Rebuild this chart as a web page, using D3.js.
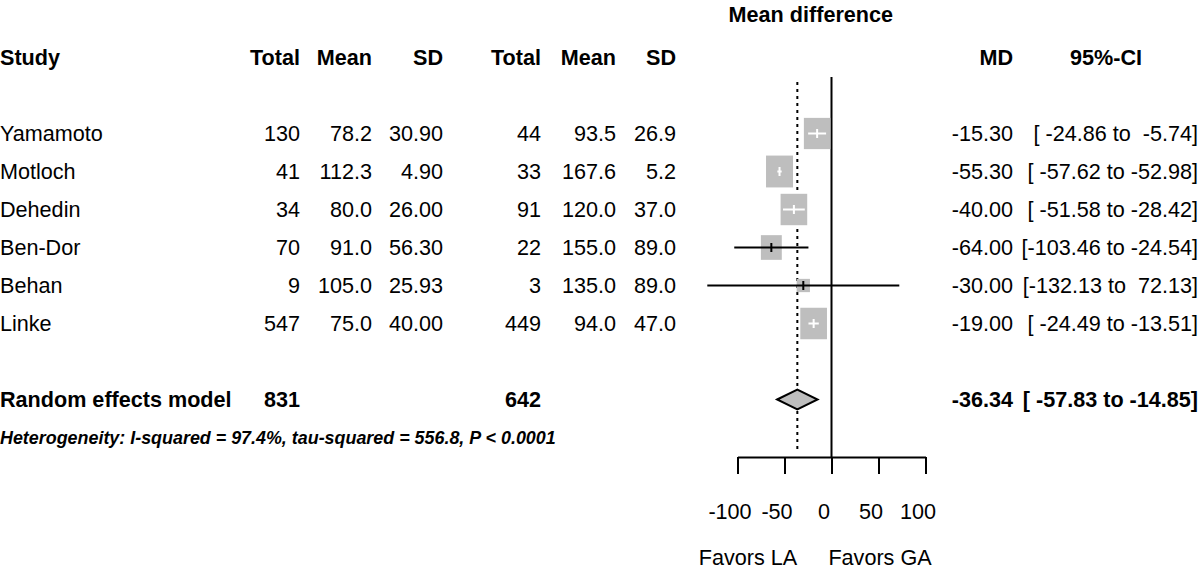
<!DOCTYPE html>
<html>
<head>
<meta charset="utf-8">
<script src="https://cdn.jsdelivr.net/npm/d3@7"></script>
<style>
  html, body { margin: 0; padding: 0; background: #fff; }
  svg text { font-family: "Liberation Sans", Arial, Helvetica, sans-serif; white-space: pre; fill: #000; }
</style>
</head>
<body>
<svg id="chart" width="1200" height="571"></svg>
<script>
// ---------------- data ----------------
const studies   = ["Yamamoto", "Motloch", "Dehedin", "Ben-Dor", "Behan", "Linke"];
const totalLA   = [130, 41, 34, 70, 9, 547];
const meanLA    = [78.2, 112.3, 80.0, 91.0, 105.0, 75.0];
const sdLA      = [30.90, 4.90, 26.00, 56.30, 25.93, 40.00];
const totalGA   = [44, 33, 91, 22, 3, 449];
const meanGA    = [93.5, 167.6, 120.0, 155.0, 135.0, 94.0];
const sdGA      = [26.9, 5.2, 37.0, 89.0, 89.0, 47.0];
const md        = [-15.30, -55.30, -40.00, -64.00, -30.00, -19.00];
const ciLower   = [-24.86, -57.62, -51.58, -103.46, -132.13, -24.49];
const ciUpper   = [-5.74, -52.98, -28.42, -24.54, 72.13, -13.51];
const weights   = [20.7, 21.5, 20.9, 12.9, 5.2, 21.0];
const pooledMD    = -36.34;
const pooledLower = -57.83;
const pooledUpper = -14.85;
const pooledTotalLA = 831;
const pooledTotalGA = 642;
const modelLabel = "Random effects model";
const hetText = "Heterogeneity: I-squared = 97.4%, tau-squared = 556.8, P < 0.0001";
const tickValues = [-100, -50, 0, 50, 100];
const headers = ["Study", "Total", "Mean", "SD", "Total", "Mean", "SD", "MD", "95%-CI"];
const plotTitle = "Mean difference";
const favorsLeft = "Favors LA";
const favorsRight = "Favors GA";

// ---------------- layout ----------------
const svg = d3.select("#chart");
const FS = 21.6;
const x = d3.scaleLinear().domain([-100, 100]).range([737.5, 925.5]);
const row = d3.scaleLinear().domain([0, 1]).range([133.5, 171.5]); // row index -> y center
const boxSize = d3.scaleSqrt().domain([0, 21.5]).range([0, 27]);
const colRight = [300, 372, 443, 541, 616, 676];
const mdRight = 1013, ciRight = 1198;
const axisY = 457;

const loc = d3.formatLocale({ decimal: ".", thousands: ",", grouping: [3], currency: ["", ""], minus: "-" });
const fmt0 = loc.format("d"), fmt1 = loc.format(".1f"), fmt2 = loc.format(".2f");
const pad = (s, n) => " ".repeat(Math.max(0, n - s.length)) + s;
const ciStr = (lo, hi) => "[" + pad(fmt2(lo), 7) + " to " + pad(fmt2(hi), 6) + "]";

function txt(xp, yc, s, opts = {}) {
  return svg.append("text")
    .attr("x", xp).attr("y", yc).attr("dy", "0.36em")
    .attr("text-anchor", opts.anchor || "start")
    .style("font-size", (opts.size || FS) + "px")
    .style("font-weight", opts.bold ? "bold" : "normal")
    .style("font-style", opts.italic ? "italic" : "normal")
    .text(s);
}

// title
txt(x(-22), 14, plotTitle, { anchor: "middle", bold: true });

// headers
const hy = row(-2);
txt(0, hy, headers[0], { bold: true });
colRight.forEach((c, i) => txt(c, hy, headers[i + 1], { anchor: "end", bold: true }));
txt(mdRight, hy, headers[7], { anchor: "end", bold: true });
txt(1106, hy, headers[8], { anchor: "middle", bold: true });

// study rows
studies.forEach((s, i) => {
  const y = row(i);
  txt(0, y, s);
  const vals = [fmt0(totalLA[i]), fmt1(meanLA[i]), fmt2(sdLA[i]),
                fmt0(totalGA[i]), fmt1(meanGA[i]), fmt1(sdGA[i])];
  vals.forEach((v, j) => txt(colRight[j], y, v, { anchor: "end" }));
  txt(mdRight, y, fmt2(md[i]), { anchor: "end" });
  txt(ciRight, y, ciStr(ciLower[i], ciUpper[i]), { anchor: "end" });
});

// pooled row
const py = row(7);
txt(0, py, modelLabel, { bold: true });
txt(colRight[0], py, fmt0(pooledTotalLA), { anchor: "end", bold: true });
txt(colRight[3], py, fmt0(pooledTotalGA), { anchor: "end", bold: true });
txt(mdRight, py, fmt2(pooledMD), { anchor: "end", bold: true });
txt(ciRight, py, ciStr(pooledLower, pooledUpper), { anchor: "end", bold: true });

// heterogeneity
txt(0, row(8), hetText, { bold: true, italic: true, size: 17.9 });

// ---------------- forest ----------------
const g = svg.append("g");

// zero line
g.append("line").attr("x1", x(0)).attr("x2", x(0)).attr("y1", 77).attr("y2", axisY)
  .attr("stroke", "#000").attr("stroke-width", 2);
// pooled dotted line
g.append("line").attr("x1", x(pooledMD)).attr("x2", x(pooledMD)).attr("y1", 82).attr("y2", 450)
  .attr("stroke", "#000").attr("stroke-width", 2).attr("stroke-dasharray", "3,4");

studies.forEach((s, i) => {
  const y = row(i);
  const w = boxSize(weights[i]);
  const h = w > 16 ? w * 1.18 : w;
  const cx = x(md[i]);
  const inside = x(ciLower[i]) >= cx - w / 2 && x(ciUpper[i]) <= cx + w / 2;
  const col = inside ? "#fff" : "#000";
  g.append("rect").attr("x", cx - w / 2).attr("y", y - h / 2)
    .attr("width", w).attr("height", h).attr("fill", "#bebebe");
  g.append("line").attr("x1", x(ciLower[i])).attr("x2", x(ciUpper[i]))
    .attr("y1", y).attr("y2", y).attr("stroke", col).attr("stroke-width", 2);
  g.append("line").attr("x1", cx).attr("x2", cx).attr("y1", y - 4.5).attr("y2", y + 4.5)
    .attr("stroke", col).attr("stroke-width", 2);
});

// diamond
g.append("path")
  .attr("d", `M${x(pooledLower)},${py} L${x(pooledMD)},${py - 10} L${x(pooledUpper)},${py} L${x(pooledMD)},${py + 10} Z`)
  .attr("fill", "#bebebe").attr("stroke", "#000").attr("stroke-width", 2);

// axis
const axisG = svg.append("g").attr("transform", `translate(0,${axisY})`)
  .call(d3.axisBottom(x).tickValues(tickValues).tickFormat(fmt0)
    .tickSize(17).tickPadding(30).tickSizeOuter(0));
axisG.select(".domain").attr("stroke-width", 2);
axisG.selectAll(".tick line").attr("stroke-width", 2);
axisG.selectAll(".tick text").style("font-size", FS + "px")
  .style("font-family", "'Liberation Sans', Arial, sans-serif").attr("dx", -8);

txt(748, 557, favorsLeft, { anchor: "middle" });
txt(880, 557, favorsRight, { anchor: "middle" });
</script>
</body>
</html>
